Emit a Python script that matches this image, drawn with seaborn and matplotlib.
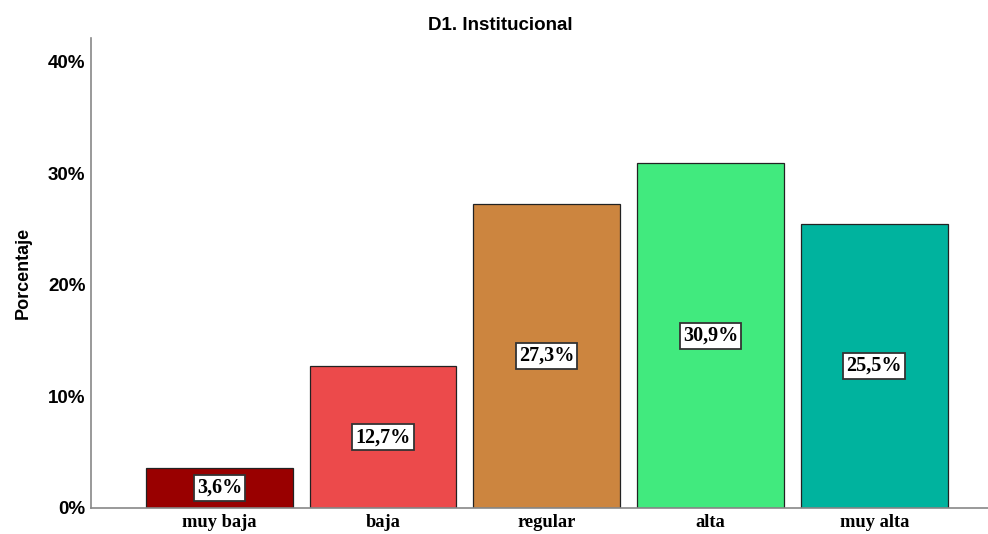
import matplotlib
matplotlib.use("Agg")
import matplotlib.pyplot as plt
import seaborn as sns
import pandas as pd
from matplotlib.ticker import FuncFormatter

categories = ["muy baja", "baja", "regular", "alta", "muy alta"]
percentages = [3.6, 12.7, 27.3, 30.9, 25.5]
colors = ["#990000", "#EC4A4B", "#CC853F", "#41EA7E", "#00B39E"]
y_ticks = [0, 10, 20, 30, 40]

df = pd.DataFrame({"nivel": categories, "porcentaje": percentages})

sns.set_theme(style="white")
plt.rcParams["font.family"] = ["Liberation Sans", "DejaVu Sans"]
plt.rcParams["text.color"] = "black"
plt.rcParams["axes.labelcolor"] = "black"
plt.rcParams["xtick.color"] = "black"
plt.rcParams["ytick.color"] = "black"

fig = plt.figure(figsize=(9.88, 5.34), dpi=100)
ax = fig.add_axes([91 / 988, 26 / 534, 1 - 91 / 988, (508 - 38) / 534])

sns.barplot(data=df, x="nivel", y="porcentaje", hue="nivel", order=categories,
            hue_order=categories, palette=colors, saturation=1, width=0.896,
            dodge=False, edgecolor="#222222", linewidth=0.9, legend=False, ax=ax)

ax.set_xlim(-0.784, 4.695)
ax.set_ylim(0, 42.15)
ax.set_yticks(y_ticks)
ax.yaxis.set_major_formatter(FuncFormatter(lambda v, p: f"{v:.0f}%"))
ax.tick_params(axis="both", length=0)
ax.tick_params(axis="y", pad=4)
ax.tick_params(axis="x", pad=4)

for lbl in ax.get_yticklabels():
    lbl.set_fontweight("bold")
    lbl.set_fontsize(13.5)
for lbl in ax.get_xticklabels():
    lbl.set_fontfamily("Liberation Serif")
    lbl.set_fontweight("bold")
    lbl.set_fontsize(13.3)

for side in ["top", "right"]:
    ax.spines[side].set_visible(False)
for side in ["left", "bottom"]:
    ax.spines[side].set_color("#888888")
    ax.spines[side].set_linewidth(1.2)

ax.set_xlabel("")
ax.set_ylabel("Porcentaje", fontsize=13, fontweight="bold", labelpad=12)
fig.text(500 / 988, 1 - 25 / 534, "D1. Institucional", ha="center", va="center",
         fontsize=13.5, fontweight="bold")

for i, v in enumerate(percentages):
    ax.text(i, v / 2, f"{v:.1f}%".replace(".", ","), ha="center", va="center",
            fontsize=14.5, fontweight="bold", fontfamily="Liberation Serif",
            bbox=dict(boxstyle="square,pad=0.15", facecolor="white",
                      edgecolor="#333333", linewidth=1.3))

fig.savefig("out.png", dpi=100)
